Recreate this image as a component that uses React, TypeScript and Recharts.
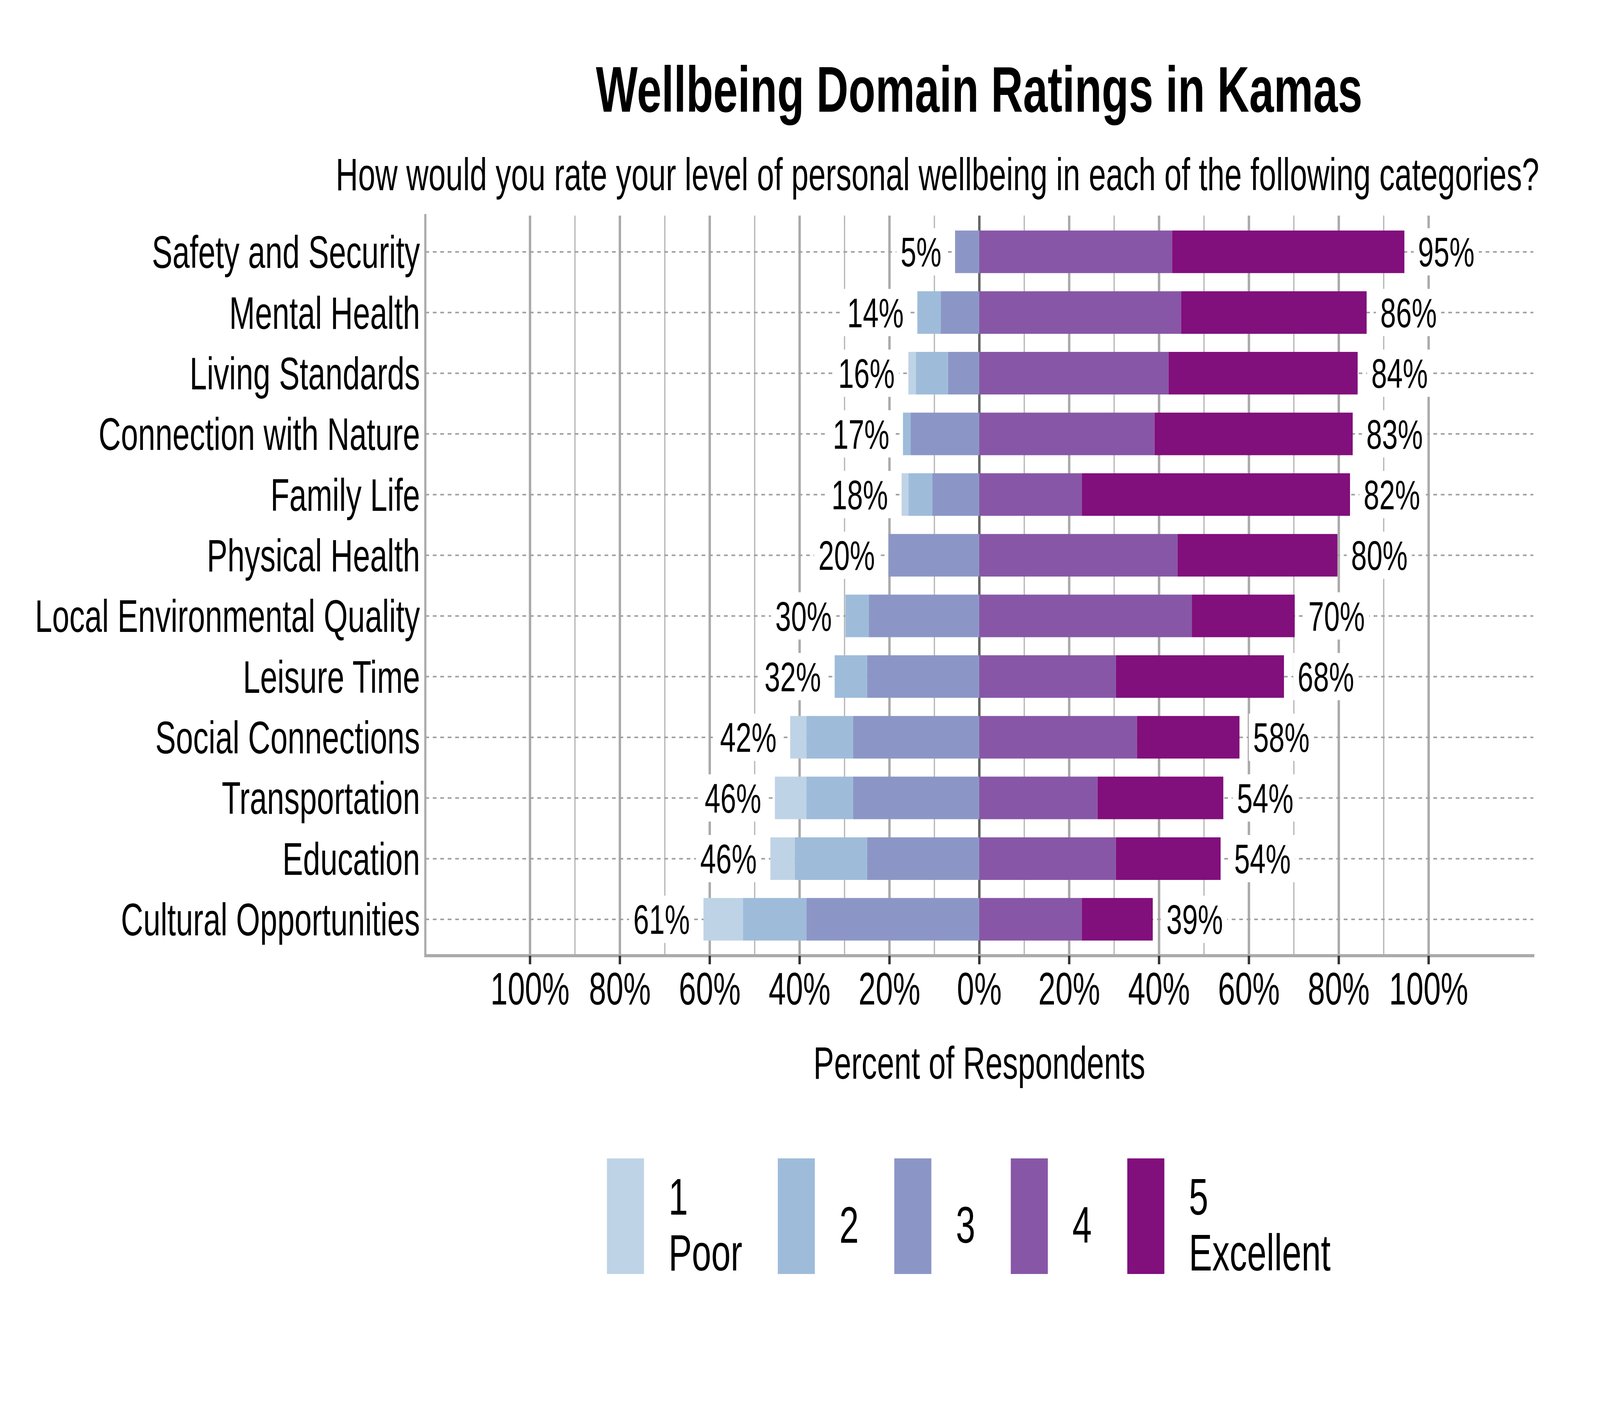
import React from 'react';
import { BarChart, Bar, XAxis, YAxis, CartesianGrid, LabelList } from 'recharts';

const categories = [
  'Safety and Security',
  'Mental Health',
  'Living Standards',
  'Connection with Nature',
  'Family Life',
  'Physical Health',
  'Local Environmental Quality',
  'Leisure Time',
  'Social Connections',
  'Transportation',
  'Education',
  'Cultural Opportunities',
];

// percent of respondents per rating
const poor = [0, 0, 1.7, 0, 1.5, 0, 0, 0, 3.6, 7.0, 5.4, 8.8];
const fair = [0, 5.2, 7.1, 1.7, 5.3, 0, 5.2, 7.2, 10.4, 10.4, 16.1, 14.1];
const neutral = [5.4, 8.6, 7.0, 15.3, 10.5, 20.2, 24.6, 25.0, 28.1, 28.1, 25.0, 38.5];
const good = [42.9, 44.9, 42.1, 39.0, 22.8, 44.1, 47.3, 30.4, 35.1, 26.3, 30.4, 22.8];
const excellent = [51.7, 41.3, 42.1, 44.1, 59.7, 35.6, 22.9, 37.4, 22.8, 28.0, 23.3, 15.8];

const negLabels = [5, 14, 16, 17, 18, 20, 30, 32, 42, 46, 46, 61];
const posLabels = [95, 86, 84, 83, 82, 80, 70, 68, 58, 54, 54, 39];

const majorTicks = [-100, -80, -60, -40, -20, 0, 20, 40, 60, 80, 100];
const minorTicks = [-90, -70, -50, -30, -10, 10, 30, 50, 70, 90];
const zeroTick = [0];
const X_LIMIT = 123.3;

const seriesColors = ['#bfd3e6', '#9ebcda', '#8c96c6', '#8856a7', '#810f7c'];
const legendLabels = [['1', 'Poor'], ['2'], ['3'], ['4'], ['5', 'Excellent']];

const TITLE = 'Wellbeing Domain Ratings in Kamas';
const SUBTITLE = 'How would you rate your level of personal wellbeing in each of the following categories?';
const X_LABEL = 'Percent of Respondents';

const FONT = '"Liberation Sans", Arial, Helvetica, sans-serif';
const DESIGN_W = 6000;
const DESIGN_H = 3600;

const data = categories.map((name, i) => ({
  name,
  r1: poor[i] ? -poor[i] : 0,
  r2: fair[i] ? -fair[i] : 0,
  r3: neutral[i] ? -neutral[i] : 0,
  r4: good[i],
  r5: excellent[i],
  negTotal: poor[i] + fair[i] + neutral[i],
  negText: `${negLabels[i]}%`,
  posText: `${posLabels[i]}%`,
}));

let measureCtx: CanvasRenderingContext2D | null = null;
function textWidth(s: string, size: number, weight = 'normal'): number {
  try {
    if (!measureCtx) measureCtx = document.createElement('canvas').getContext('2d');
    if (measureCtx) {
      measureCtx.font = `${weight} ${size}px ${FONT}`;
      return measureCtx.measureText(s).width;
    }
  } catch (e) {
    // ignore
  }
  return s.length * size * 0.556;
}

// map a value through the axis' own scale
function scaleValue(axis: any, v: number): number {
  const s = axis && axis.scale;
  if (typeof s === 'function') return Number(s(v));
  if (s && typeof s.map === 'function') return Number(s.map(v));
  return NaN;
}
const makeGen = (values: number[]) => (args: any) =>
  values.map((v) => scaleValue(args && args.xAxis, v)).filter((p) => Number.isFinite(p));
const minorGen = makeGen(minorTicks);
const zeroGen = makeGen(zeroTick);

const LABEL_SIZE = 106;
const LABEL_GAP = 51;
const LABEL_PAD = 16;
const LABEL_BOX_H = 121;

function readBox(props: any) {
  const vb = props.viewBox && props.viewBox.width !== undefined ? props.viewBox : props;
  const x = Number(vb.x);
  const w = Number(vb.width);
  const y = Number(vb.y);
  const h = Number(vb.height);
  return { left: Math.min(x, x + w), right: Math.max(x, x + w), cy: Math.min(y, y + h) + Math.abs(h) / 2 };
}

const NegLabel = (props: any) => {
  const { index, value } = props;
  const row = data[index];
  if (!row) return null;
  const { left, right, cy } = readBox(props);
  const v = Math.abs(row.r3);
  const k = v > 0 ? (right - left) / v : 0;
  const endX = right - k * row.negTotal;
  const tx = endX - LABEL_GAP;
  const w = textWidth(String(value), LABEL_SIZE);
  return (
    <g>
      <rect x={tx - w - LABEL_PAD} y={cy - LABEL_BOX_H / 2} width={w + 2 * LABEL_PAD} height={LABEL_BOX_H} fill="#ffffff" />
      <text x={tx} y={cy} dy="0.355em" textAnchor="end" fontSize={LABEL_SIZE} fill="#000" fontFamily={FONT}>
        {value}
      </text>
    </g>
  );
};

const PosLabel = (props: any) => {
  const { value } = props;
  const { right, cy } = readBox(props);
  const tx = right + LABEL_GAP;
  const w = textWidth(String(value), LABEL_SIZE);
  return (
    <g>
      <rect x={tx - LABEL_PAD} y={cy - LABEL_BOX_H / 2} width={w + 2 * LABEL_PAD} height={LABEL_BOX_H} fill="#ffffff" />
      <text x={tx} y={cy} dy="0.355em" textAnchor="start" fontSize={LABEL_SIZE} fill="#000" fontFamily={FONT}>
        {value}
      </text>
    </g>
  );
};

const Overlay = () => {
  const keyW = 139;
  const keyH = 296;
  const keyTop = 2966;
  const legendSize = 131;
  let x = 2276;
  const items = legendLabels.map((lines, i) => {
    const kx = x;
    const tw = Math.max(...lines.map((l) => textWidth(l, legendSize)));
    x = kx + keyW + 92 + tw + 133;
    const baselines = lines.length === 2 ? [3110, 3253] : [3182];
    return (
      <g key={i}>
        <rect x={kx} y={keyTop} width={keyW} height={keyH} fill={seriesColors[i]} />
        {lines.map((l, j) => (
          <text key={j} x={kx + keyW + 92} y={baselines[j]} fontSize={legendSize} fill="#000" fontFamily={FONT}>
            {l}
          </text>
        ))}
      </g>
    );
  });
  return (
    <svg width={DESIGN_W} height={DESIGN_H} style={{ position: 'absolute', left: 0, top: 0, pointerEvents: 'none' }}>
      <text x={3672} y={286} textAnchor="middle" fontSize={166} fontWeight="bold" fill="#000" fontFamily={FONT}>
        {TITLE}
      </text>
      <text x={5772} y={487} textAnchor="end" fontSize={116} fill="#000" fontFamily={FONT}>
        {SUBTITLE}
      </text>
      {items}
    </svg>
  );
};

const borderLine = { stroke: '#aaaaaa', strokeWidth: 8, strokeLinecap: 'square' as const };

export default function App() {
  const vw = typeof window !== 'undefined' ? window.innerWidth : DESIGN_W;
  const vh = typeof window !== 'undefined' ? window.innerHeight : DESIGN_H;
  const sx = Math.min(1, vw / DESIGN_W);
  const sy = Math.min(1, vh / DESIGN_H);
  return (
    <div
      style={{
        position: 'absolute',
        left: 0,
        top: 0,
        width: DESIGN_W,
        height: DESIGN_H,
        background: '#fff',
        fontFamily: FONT,
        transform: `scale(${sx}, ${sy})`,
        transformOrigin: '0 0',
      }}
    >
      <BarChart
        width={DESIGN_W}
        height={DESIGN_H}
        data={data}
        layout="vertical"
        stackOffset="sign"
        margin={{ top: 552, right: 250, bottom: 853, left: 0 }}
        barSize={109}
      >
        <XAxis
          type="number"
          domain={[-X_LIMIT, X_LIMIT]}
          ticks={majorTicks}
          interval={0}
          tickFormatter={(v: number) => `${Math.abs(v)}%`}
          tick={{ fontSize: 116, fill: '#000', fontFamily: FONT }}
          tickLine={{ stroke: '#333333', strokeWidth: 9 }}
          tickSize={22}
          tickMargin={21}
          axisLine={borderLine}
          height={300}
          label={{ value: X_LABEL, position: 'insideTop', offset: 233, fontSize: 116, fill: '#000', fontFamily: FONT }}
        />
        <XAxis
          xAxisId="top"
          orientation="top"
          type="number"
          domain={[-X_LIMIT, X_LIMIT]}
          ticks={majorTicks}
          height={0}
          tick={false}
          tickLine={false}
          axisLine={borderLine}
        />
        <YAxis
          type="category"
          dataKey="name"
          width={1595}
          interval={0}
          tickLine={false}
          axisLine={borderLine}
          tickSize={0}
          tickMargin={20}
          padding={{ top: 15.3, bottom: 15.3 }}
          tick={{ fontSize: 116, fill: '#000', fontFamily: FONT }}
        />
        <YAxis
          yAxisId="right"
          orientation="right"
          type="category"
          dataKey="name"
          width={0}
          tick={false}
          tickLine={false}
          axisLine={borderLine}
          padding={{ top: 15.3, bottom: 15.3 }}
        />
        <CartesianGrid horizontal={false} verticalCoordinatesGenerator={minorGen} stroke="#b3b3b3" strokeWidth={4.5} />
        <CartesianGrid horizontal={false} syncWithTicks stroke="#aaaaaa" strokeWidth={9} />
        <CartesianGrid vertical={false} syncWithTicks stroke="#a0a0a0" strokeWidth={4} strokeDasharray="14 14" />
        <CartesianGrid horizontal={false} verticalCoordinatesGenerator={zeroGen} stroke="#666666" strokeWidth={9} />
        <Bar dataKey="r3" stackId="s" fill={seriesColors[2]} isAnimationActive={false}>
          <LabelList dataKey="negText" content={NegLabel} />
        </Bar>
        <Bar dataKey="r2" stackId="s" fill={seriesColors[1]} isAnimationActive={false} />
        <Bar dataKey="r1" stackId="s" fill={seriesColors[0]} isAnimationActive={false} />
        <Bar dataKey="r4" stackId="s" fill={seriesColors[3]} isAnimationActive={false} />
        <Bar dataKey="r5" stackId="s" fill={seriesColors[4]} isAnimationActive={false}>
          <LabelList dataKey="posText" content={PosLabel} />
        </Bar>
      </BarChart>
      <Overlay />
    </div>
  );
}
